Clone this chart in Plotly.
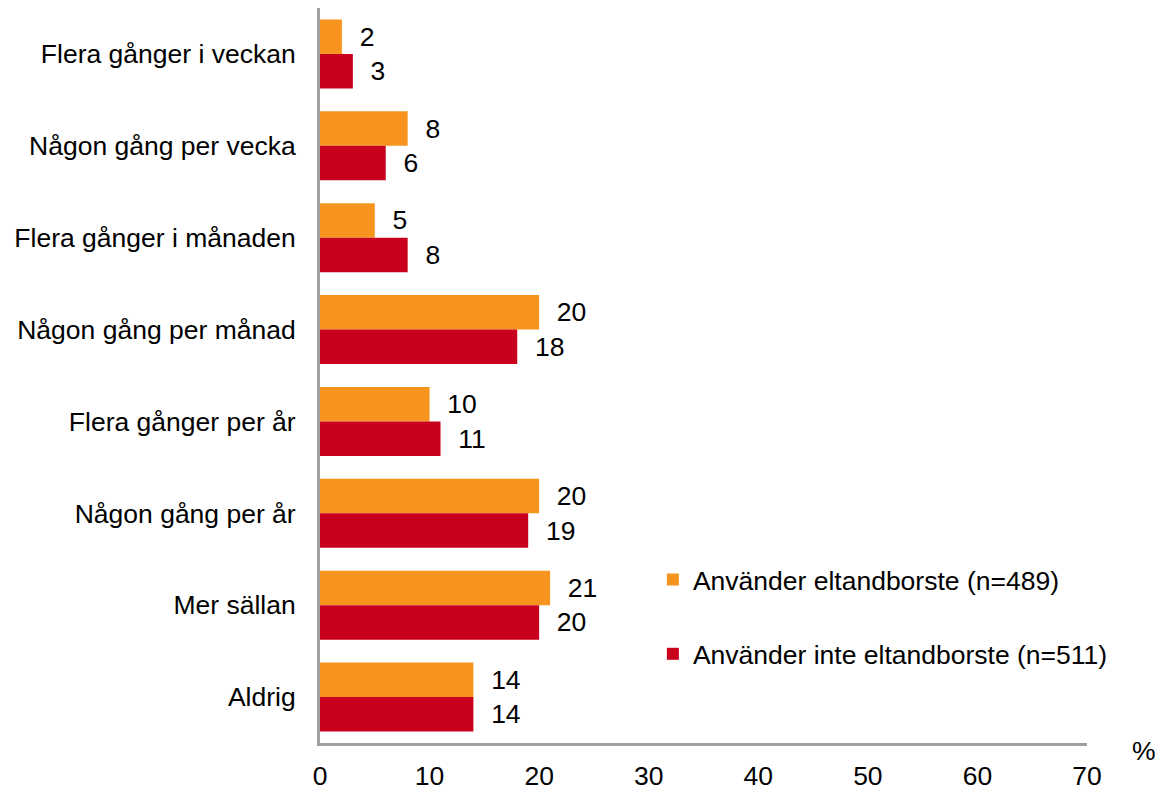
import plotly.graph_objects as go

categories = [
    "Flera gånger i veckan",
    "Någon gång per vecka",
    "Flera gånger i månaden",
    "Någon gång per månad",
    "Flera gånger per år",
    "Någon gång per år",
    "Mer sällan",
    "Aldrig",
]
uses_electric = [2, 8, 5, 20, 10, 20, 21, 14]
no_electric = [3, 6, 8, 18, 11, 19, 20, 14]
series_names = [
    "Använder eltandborste (n=489)",
    "Använder inte eltandborste (n=511)",
]
x_ticks = [0, 10, 20, 30, 40, 50, 60, 70]

FONT = "Liberation Sans, Arial, sans-serif"
FONT_SIZE = 26.5
ORANGE = "#F7941D"
RED = "#C8001E"
AXIS_GREY = "#A0A0A0"

# the page adds an 8 px body margin, so the figure is a little smaller
PAGE_OFFSET = 8

fig = go.Figure()
for name, values, colour, legend_ref in [
    (series_names[0], uses_electric, ORANGE, "legend"),
    (series_names[1], no_electric, RED, "legend2"),
]:
    fig.add_trace(
        go.Bar(
            y=categories,
            x=values,
            name=name,
            orientation="h",
            marker=dict(color=colour, line=dict(width=0)),
            text=values,
            texttemplate="  %{x}",
            textposition="outside",
            textfont=dict(color="black", size=FONT_SIZE, family=FONT),
            cliponaxis=False,
            legend=legend_ref,
            showlegend=True,
        )
    )

legend_style = dict(
    font=dict(size=FONT_SIZE, family=FONT, color="black"),
    bgcolor="rgba(0,0,0,0)",
    xanchor="left",
    yanchor="middle",
    itemwidth=30,
)

fig.update_layout(
    width=1163 - PAGE_OFFSET,
    height=790 - PAGE_OFFSET,
    margin=dict(l=320 - PAGE_OFFSET, r=76, t=0, b=47, pad=0),
    plot_bgcolor="white",
    paper_bgcolor="white",
    showlegend=True,
    barmode="group",
    bargap=0.25,
    bargroupgap=0,
    font=dict(family=FONT, size=FONT_SIZE, color="black"),
    legend=dict(x=0.434, y=0.222, **legend_style),
    legend2=dict(x=0.434, y=0.121, **legend_style),
    xaxis=dict(
        range=[0, 70],
        tickvals=x_ticks,
        showgrid=False,
        zeroline=False,
        showline=True,
        linecolor=AXIS_GREY,
        linewidth=3,
        ticks="",
        automargin=False,
        ticklabelstandoff=7,
        tickfont=dict(size=FONT_SIZE, family=FONT, color="black"),
    ),
    yaxis=dict(
        autorange="reversed",
        showgrid=False,
        zeroline=False,
        showline=True,
        linecolor=AXIS_GREY,
        linewidth=3,
        ticks="",
        automargin=False,
        ticklabelstandoff=16,
        tickfont=dict(size=FONT_SIZE, family=FONT, color="black"),
    ),
    annotations=[
        dict(
            text="%",
            x=1.074,
            y=-0.011,
            xref="paper",
            yref="paper",
            xanchor="center",
            yanchor="middle",
            showarrow=False,
            font=dict(size=FONT_SIZE, family=FONT, color="black"),
        )
    ],
)

fig.write_html("out.html")
